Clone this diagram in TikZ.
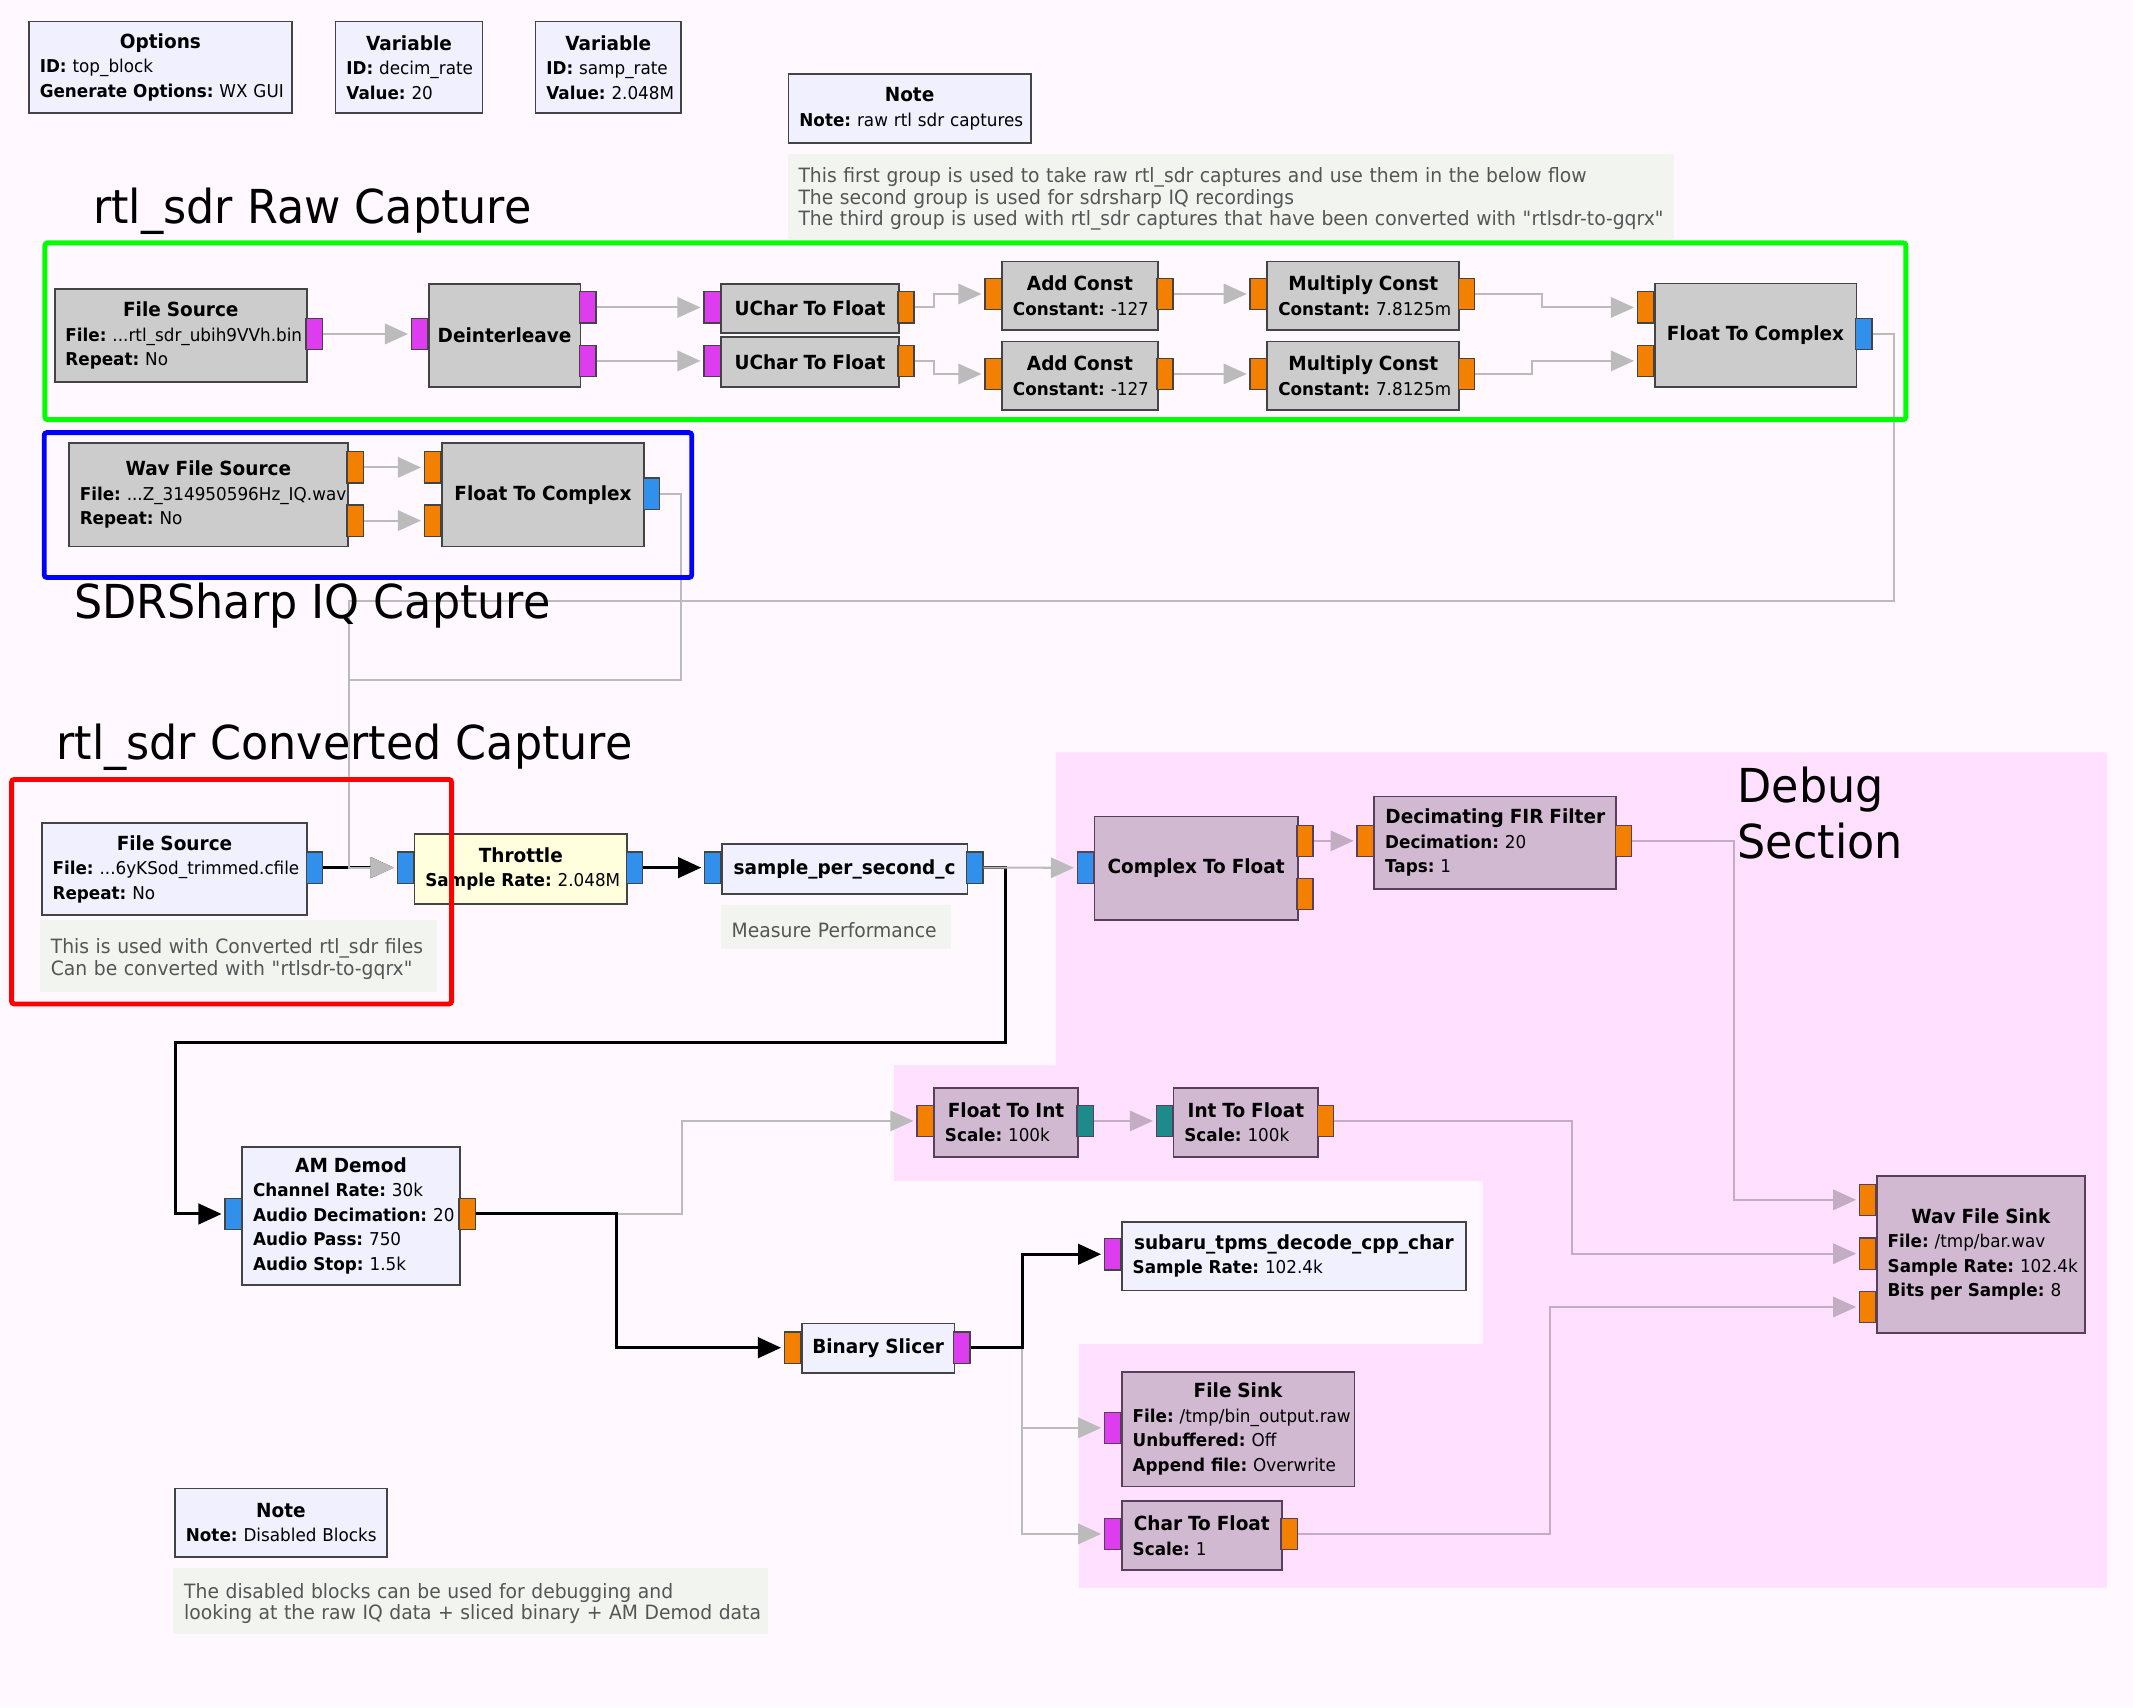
\documentclass[tikz,border=0pt]{standalone}
\usepackage{fontspec}
\setmainfont{DejaVu Sans}[FakeStretch=0.95]
\usetikzlibrary{arrows.meta}
\setlength{\parindent}{0pt}
\frenchspacing

\definecolor{bgc}{HTML}{FFF8FF}
\definecolor{pinkbg}{HTML}{FFE0FF}
\definecolor{cgray}{HTML}{CCCCCC}
\definecolor{cblk}{HTML}{F0F0FF}
\definecolor{cthr}{HTML}{FFFFDD}
\definecolor{cdbg}{HTML}{D1B9D1}
\definecolor{bdr}{HTML}{444444}
\definecolor{bdrdbg}{HTML}{5A3F5A}
\definecolor{pmag}{HTML}{DE3CEF}
\definecolor{porg}{HTML}{F38000}
\definecolor{pblu}{HTML}{3090EC}
\definecolor{pteal}{HTML}{1F8A8C}
\definecolor{ccom}{HTML}{F2F4F0}
\definecolor{ctxt}{HTML}{555555}
\definecolor{cwire}{HTML}{BBBBBB}
\definecolor{cwdbg}{HTML}{C3ADC3}
\definecolor{cgreen}{HTML}{00FF00}
\definecolor{cblue}{HTML}{0000FF}
\definecolor{cred}{HTML}{FF0000}

\newcommand{\blkfont}{\fontsize{6.5}{9}\selectfont}
\newcommand{\comfont}{\fontsize{7.25}{8}\selectfont}
\newcommand{\ttlfont}{\fontsize{17.2}{20}\selectfont}
\newcommand{\blkttl}[1]{\makebox[\hsize]{\fontsize{7.15}{9}\selectfont\bfseries #1}}
\newcommand{\kvp}[2]{\mbox{\textbf{#1:} #2}}

\tikzset{
	blk/.style={draw=bdr, line width=0.65pt, anchor=north west, inner xsep=4pt, inner ysep=0pt, align=left, font=\blkfont},
	dbg/.style={blk, draw=bdrdbg, fill=cdbg},
	com/.style={fill=ccom, anchor=north west, inner xsep=4pt, inner ysep=0pt, align=left, text=ctxt, font=\comfont, execute at begin node={\rule{0pt}{7.5pt}}},
	port/.style={draw=bdr, line width=0.5pt, minimum width=6pt, minimum height=11.5pt, inner sep=0pt},
	wgray/.style={draw=cwire, line width=0.75pt, -{Triangle[length=8.5pt,width=7.5pt]}, shorten >=1pt},
	wdbg/.style={wgray, draw=cwdbg},
	wblack/.style={draw=black, line width=1.1pt, -{Triangle[length=8.5pt,width=7.5pt]}, shorten >=1pt},
	grptitle/.style={anchor=base west, inner sep=0pt, font=\ttlfont},
	frame/.style={line width=1.8pt, rounded corners=1pt},
}

\def\gbox[#1](#2)(#3,#4)(#5,#6)#7{%
	\pgfmathsetlengthmacro\boxw{(#5-#3)*0.5pt}%
	\pgfmathsetlengthmacro\boxh{(#6-#4)*0.5pt}%
	\pgfmathsetlengthmacro\boxtw{(#5-#3-16)*0.5pt}%
	\node[#1, minimum width=\boxw, minimum height=\boxh, text width=\boxtw] (#2) at (#3,#4) {#7};}
\def\grport[#1](#2)(#3,#4){\node[port, fill=#1] (#2) at (#3,#4) {};}

\begin{document}
\begin{tikzpicture}[x=0.5pt, y=-0.5pt]
		%%%%% START %%%%%
		
		\useasboundingbox (0,0) rectangle (1568,1255);
		\fill[bgc] (0,0) rectangle (1568,1255);
		\fill[pinkbg] (776,553) -- (1549,553) -- (1549,1167) -- (793,1167) -- (793,988) -- (1090,988) -- (1090,868) -- (657,868) -- (657,783) -- (776,783) -- cycle;
		
		% comments
		\gbox[com](cm1)(578.6,112.7)(1230,175){\mbox{This first group is used to take raw rtl\_sdr captures and use them in the below flow}\\\mbox{The second group is used for sdrsharp IQ recordings}\\\mbox{The third group is used with rtl\_sdr captures that have been converted with \textquotedbl rtlsdr-to-gqrx\textquotedbl}}
		\gbox[com](cm2)(29,676)(321,729){\mbox{This is used with Converted rtl\_sdr files}\\\mbox{Can be converted with \textquotedbl rtlsdr-to-gqrx\textquotedbl}}
		\gbox[com](cm3)(529.5,664.6)(699,697.5){\mbox{Measure Performance}}
		\gbox[com](cm4)(127,1152)(564.5,1200.8){\mbox{The disabled blocks can be used for debugging and}\\\mbox{looking at the raw IQ data + sliced binary + AM Demod data}}
		
		% variables and notes
		\gbox[blk, fill=cblk](opt)(20.6,15.2)(214,82.6){\blkttl{Options}\\\kvp{ID}{top\_block}\\\kvp{Generate Options}{WX GUI}}
		\gbox[blk, fill=cblk](var1)(246,15.2)(354,82.6){\blkttl{Variable}\\\kvp{ID}{decim\_rate}\\\kvp{Value}{20}}
		\gbox[blk, fill=cblk](var2)(393,15.2)(500,82.6){\blkttl{Variable}\\\kvp{ID}{samp\_rate}\\\kvp{Value}{2.048M}}
		\gbox[blk, fill=cblk](note1)(579,54)(757,104.6){\blkttl{Note}\\\kvp{Note}{raw rtl sdr captures}}
		\gbox[blk, fill=cblk](note2)(128,1093.6)(283.7,1143.7){\blkttl{Note}\\\kvp{Note}{Disabled Blocks}}
		
		% raw capture
		\gbox[blk, fill=cgray](fsr)(39.5,212)(225,280){\blkttl{File Source}\\\kvp{File}{...rtl\_sdr\_ubih9VVh.bin}\\\kvp{Repeat}{No}}
		\gbox[blk, fill=cgray](dil)(314.5,208)(426,283.7){\blkttl{Deinterleave}}
		\gbox[blk, fill=cgray](uc1)(529.5,208)(660,244.3){\blkttl{UChar To Float}}
		\gbox[blk, fill=cgray](uc2)(529.5,247)(660,283.7){\blkttl{UChar To Float}}
		\gbox[blk, fill=cgray](ac1)(736,191.6)(850.4,242){\blkttl{Add Const}\\\kvp{Constant}{-127}}
		\gbox[blk, fill=cgray](ac2)(736,250.4)(850.4,300.8){\blkttl{Add Const}\\\kvp{Constant}{-127}}
		\gbox[blk, fill=cgray](mc1)(931,191.6)(1072,242){\blkttl{Multiply Const}\\\kvp{Constant}{7.8125m}}
		\gbox[blk, fill=cgray](mc2)(931,250.4)(1072,300.8){\blkttl{Multiply Const}\\\kvp{Constant}{7.8125m}}
		\gbox[blk, fill=cgray](ftc1)(1215.7,207.8)(1364,283.7){\blkttl{Float To Complex}}
		
		% sdrsharp capture
		\gbox[blk, fill=cgray](wfs)(50,325)(255,401){\blkttl{Wav File Source}\\\kvp{File}{...Z\_314950596Hz\_IQ.wav}\\\kvp{Repeat}{No}}
		\gbox[blk, fill=cgray](ftc2)(324,325)(473,401){\blkttl{Float To Complex}}
		
		% converted capture and decoder
		\gbox[blk, fill=cblk](fsc)(30,604.6)(225.3,672){\blkttl{File Source}\\\kvp{File}{...6yKSod\_trimmed.cfile}\\\kvp{Repeat}{No}}
		\gbox[blk, fill=cthr](thr)(304,612.4)(460.4,663.7){\blkttl{Throttle}\\\kvp{Sample Rate}{2.048M}}
		\gbox[blk, fill=cblk](sps)(530,619.6)(710.5,656.6){\blkttl{sample\_per\_second\_c}}
		\gbox[blk, fill=cblk](amd)(177.4,842.3)(337.4,943.8){\blkttl{AM Demod}\\\kvp{Channel Rate}{30k}\\\kvp{Audio Decimation}{20}\\\kvp{Audio Pass}{750}\\\kvp{Audio Stop}{1.5k}}
		\gbox[blk, fill=cblk](bsl)(588.7,972.3)(701,1008.9){\blkttl{Binary Slicer}}
		\gbox[blk, fill=cblk](sub)(824,897.5)(1077,948){\blkttl{subaru\_tpms\_decode\_cpp\_char}\\\kvp{Sample Rate}{102.4k}}
		
		% debug section
		\gbox[dbg](c2f)(804,599.5)(953.3,675.7){\blkttl{Complex To Float}}
		\gbox[dbg](dfir)(1009.6,584.8)(1187.5,652.7){\blkttl{Decimating FIR Filter}\\\kvp{Decimation}{20}\\\kvp{Taps}{1}}
		\gbox[dbg](fti)(686,799)(791.8,849.7){\blkttl{Float To Int}\\\kvp{Scale}{100k}}
		\gbox[dbg](itf)(862,799)(968.4,849.7){\blkttl{Int To Float}\\\kvp{Scale}{100k}}
		\gbox[dbg](wsk)(1379,864)(1532,979){\blkttl{Wav File Sink}\\\kvp{File}{/tmp/bar.wav}\\\kvp{Sample Rate}{102.4k}\\\kvp{Bits per Sample}{8}}
		\gbox[dbg](fsk)(824,1007.7)(995,1092){\blkttl{File Sink}\\\kvp{File}{/tmp/bin\_output.raw}\\\kvp{Unbuffered}{Off}\\\kvp{Append file}{Overwrite}}
		\gbox[dbg](ch2f)(824,1103)(941.6,1153.6){\blkttl{Char To Float}\\\kvp{Scale}{1}}
		
		% ports
		\grport[pmag](fsro)(231,245.5)
		\grport[pmag](dili)(308.5,245.5)
		\grport[pmag](dilo1)(432,226)
		\grport[pmag](dilo2)(432,265.3)
		\grport[pmag](uc1i)(523.5,226)
		\grport[porg](uc1o)(666,226)
		\grport[pmag](uc2i)(523.5,265.3)
		\grport[porg](uc2o)(666,265.3)
		\grport[porg](ac1i)(730,216.1)
		\grport[porg](ac1o)(856.4,216.1)
		\grport[porg](ac2i)(730,274.9)
		\grport[porg](ac2o)(856.4,274.9)
		\grport[porg](mc1i)(925,216.1)
		\grport[porg](mc1o)(1078,216.1)
		\grport[porg](mc2i)(925,274.9)
		\grport[porg](mc2o)(1078,274.9)
		\grport[porg](ftc1i1)(1209.7,226)
		\grport[porg](ftc1i2)(1209.7,265.3)
		\grport[pblu](ftc1o)(1370,245.5)
		
		\grport[porg](wfso1)(261,343.6)
		\grport[porg](wfso2)(261,382.7)
		\grport[porg](ftc2i1)(318,343.6)
		\grport[porg](ftc2i2)(318,382.7)
		\grport[pblu](ftc2o)(479,363)
		
		\grport[pblu](fsco)(231.3,637.8)
		\grport[pblu](thri)(298,637.8)
		\grport[pblu](thro)(466.4,637.8)
		\grport[pblu](spsi)(524,637.8)
		\grport[pblu](spso)(716.5,637.8)
		\grport[pblu](amdi)(171.4,892.4)
		\grport[porg](amdo)(343.4,892.4)
		\grport[porg](bsli)(582.7,990.7)
		\grport[pmag](bslo)(707,990.7)
		\grport[pmag](subi)(818,922)
		
		\grport[pblu, draw=bdrdbg](c2fi)(798,637.9)
		\grport[porg, draw=bdrdbg](c2fo1)(959.3,618.1)
		\grport[porg, draw=bdrdbg](c2fo2)(959.3,657.3)
		\grport[porg, draw=bdrdbg](dfiri)(1003.6,618.1)
		\grport[porg, draw=bdrdbg](dfiro)(1193.5,618.1)
		\grport[porg, draw=bdrdbg](ftii)(680,824)
		\grport[pteal, draw=bdrdbg](ftio)(797.8,824)
		\grport[pteal, draw=bdrdbg](itfi)(856,824)
		\grport[porg, draw=bdrdbg](itfo)(974.4,824)
		\grport[porg, draw=bdrdbg](wski1)(1373,882)
		\grport[porg, draw=bdrdbg](wski2)(1373,921.6)
		\grport[porg, draw=bdrdbg](wski3)(1373,960.8)
		\grport[pmag, draw=bdrdbg](fski)(818,1049.6)
		\grport[pmag, draw=bdrdbg](ch2fi)(818,1127.6)
		\grport[porg, draw=bdrdbg](ch2fo)(947.6,1127.6)
		
		\coordinate (thrj) at (256.3,637.8);
		\coordinate (amdj) at (129.2,892.4);
		
		% connections
		\draw[wblack] (fsco.east) -- (thri.west);
		\draw[wblack] (spso.east) -- ++(16,0) -- ++(0,128.2) -| (amdj) -- (amdi.west);
		
		\draw[wgray] (fsro.east) -- (dili.west);
		\draw[wgray] (dilo1.east) -- (uc1i.west);
		\draw[wgray] (dilo2.east) -- (uc2i.west);
		\draw[wgray] (uc1o.east) -- ++(14,0) |- (ac1i.west);
		\draw[wgray] (uc2o.east) -- ++(14,0) |- (ac2i.west);
		\draw[wgray] (ac1o.east) -- (mc1i.west);
		\draw[wgray] (ac2o.east) -- (mc2i.west);
		\draw[wgray] (mc1o.east) -- ++(49,0) |- (ftc1i1.west);
		\draw[wgray] (mc2o.east) -- ++(42,0) |- (ftc1i2.west);
		\draw[wgray] (ftc1o.east) -- ++(16,0) -- ++(0,196) -| (thrj) -- (thri.west);
		\draw[wgray] (wfso1.east) -- (ftc2i1.west);
		\draw[wgray] (wfso2.east) -- (ftc2i2.west);
		\draw[wgray] (ftc2o.east) -- ++(15,0) -- ++(0,137) -| (thrj) -- (thri.west);
		\draw[wgray] (spso.east) -- (c2fi.west);
		\draw[wgray] (amdo.east) -- ++(151.6,0) |- (ftii.west);
		\draw[wgray] (bslo.east) -- ++(38,0) |- (fski.west);
		\draw[wgray] (bslo.east) -- ++(38,0) |- (ch2fi.west);
		
		\draw[wdbg] (c2fo1.east) -- (dfiri.west);
		\draw[wdbg] (dfiro.east) -- ++(75,0) |- (wski1.west);
		\draw[wdbg] (ftio.east) -- (itfi.west);
		\draw[wdbg] (itfo.east) -- ++(175,0) |- (wski2.west);
		\draw[wdbg] (ch2fo.east) -- ++(185,0) |- (wski3.west);
		
		\draw[wblack] (thro.east) -- (spsi.west);
		\draw[wblack] (amdo.east) -- ++(103,0) |- (bsli.west);
		\draw[wblack] (bslo.east) -- ++(38,0) |- (subi.west);
		
		% groups
		\draw[frame, draw=cgreen] (33,178.5) rectangle (1401,308.5);
		\draw[frame, draw=cblue] (32.5,318) rectangle (508.5,424.5);
		\draw[frame, draw=cred] (8.5,573) rectangle (332,738);
		
		\node[grptitle] (grpraw) at (68,164) {rtl\_sdr Raw Capture};
		\node[grptitle] (grpsdr) at (54,454.5) {SDRSharp IQ Capture};
		\node[grptitle] (grpconv) at (41,558.6) {rtl\_sdr Converted Capture};
		\node[grptitle] (grpdbg1) at (1277,590) {Debug};
		\node[grptitle] (grpdbg2) at (1277,631) {Section};
		
		%%%%% END %%%%%
\end{tikzpicture}
\end{document}
